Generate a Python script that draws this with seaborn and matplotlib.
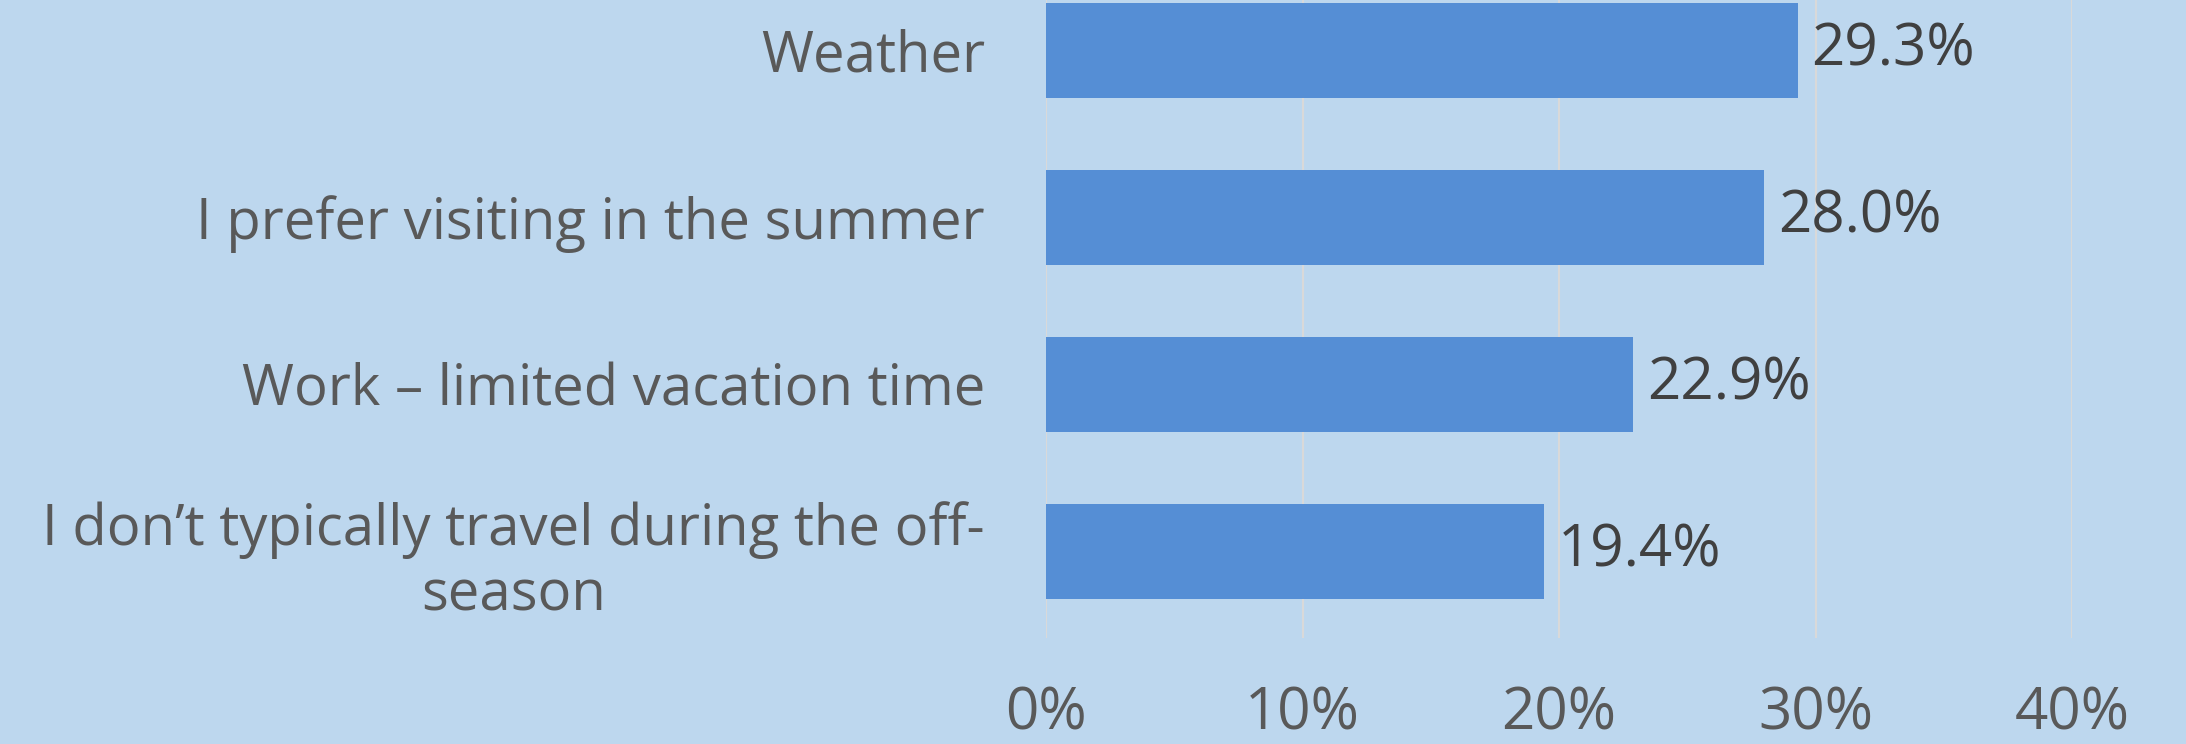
import matplotlib
matplotlib.use("Agg")
import matplotlib.pyplot as plt
import seaborn as sns
import pandas as pd

categories = ["Weather", "I prefer visiting in the summer", "Work \u2013 limited vacation time",
              "I don\u2019t typically travel during the off-\nseason"]
values = [0.293, 0.280, 0.229, 0.194]
value_labels = ["29.3%", "28.0%", "22.9%", "19.4%"]
xticks = [0.0, 0.1, 0.2, 0.3, 0.4]
xtick_labels = ["0%", "10%", "20%", "30%", "40%"]

BG = "#bdd7ee"
BAR = "#558ed5"
TXT = "#595959"

sns.set_theme(style="white")
plt.rcParams['font.family'] = ['Open Sans', 'DejaVu Sans']

df = pd.DataFrame({"cat": categories, "val": values})

fig = plt.figure(figsize=(21.86, 7.44), dpi=100, facecolor=BG)
ax = fig.add_axes([0.4785, 0.1425, 0.4694, 0.8575])
ax.set_facecolor(BG)

sns.barplot(data=df, x="val", y="cat", orient="h", color=BAR, width=0.567,
            saturation=1, ax=ax, zorder=2, linewidth=0, edgecolor=BAR)

ax.set_xlim(0, 0.4)
ax.set_ylim(3.517, -0.3)
ax.set_xticks(xticks)
ax.set_xticklabels(xtick_labels)
ax.xaxis.grid(True, color="#d9d9d9", linewidth=1.5, zorder=0)
ax.yaxis.grid(False)
for s in ax.spines.values():
    s.set_visible(False)
ax.tick_params(axis="x", length=0, pad=34, labelsize=42, labelcolor=TXT)
ax.tick_params(axis="y", length=0, pad=44, labelsize=40.5, labelcolor=TXT)
for lbl in ax.get_yticklabels():
    lbl.set_multialignment("center")
    lbl.set_linespacing(1.2)
ax.set_xlabel("")
ax.set_ylabel("")

for i, (v, t) in enumerate(zip(values, value_labels)):
    ax.annotate(t, (v, i), xytext=(10, 0), textcoords="offset points",
                ha="left", va="center", fontsize=42, color="#404040")

fig.savefig("out.png", dpi=100, facecolor=BG)
